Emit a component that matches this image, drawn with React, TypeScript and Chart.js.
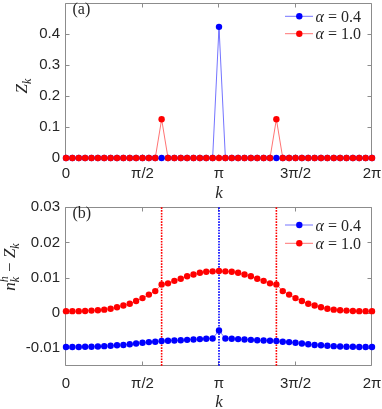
import React, { useEffect, useRef } from 'react';
import { Chart, registerables } from 'chart.js';

Chart.register(...registerables);

// ---------- data ----------
const kIndex = [
  0, 1, 2, 3, 4, 5, 6, 7, 8, 9, 10, 11, 12, 13, 14, 15, 16, 17, 18, 19, 20, 21, 22, 23, 24,
  25, 26, 27, 28, 29, 30, 31, 32, 33, 34, 35, 36, 37, 38, 39, 40, 41, 42, 43, 44, 45, 46, 47, 48,
];
const xTickIndex = [0, 12, 24, 36, 48];
const xTickLabels = ['0', 'π/2', 'π', '3π/2', '2π'];

const zkAlpha04 = [
  0, 0, 0, 0, 0, 0, 0, 0, 0, 0, 0, 0, 0, 0, 0, 0, 0, 0, 0, 0, 0, 0, 0, 0, 0.423,
  0, 0, 0, 0, 0, 0, 0, 0, 0, 0, 0, 0, 0, 0, 0, 0, 0, 0, 0, 0, 0, 0, 0, 0,
];
const zkAlpha10 = [
  0, 0, 0, 0, 0, 0, 0, 0, 0, 0, 0, 0, 0, 0, 0, 0.125, 0, 0, 0, 0, 0, 0, 0, 0, 0,
  0, 0, 0, 0, 0, 0, 0, 0, 0.125, 0, 0, 0, 0, 0, 0, 0, 0, 0, 0, 0, 0, 0, 0, 0,
];

const diffAlpha04 = [
  -0.0097, -0.0097, -0.0097, -0.0096, -0.0096, -0.00955, -0.00945, -0.00935, -0.0092, -0.0091,
  -0.0089, -0.0087, -0.0085, -0.0083, -0.0082, -0.008, -0.0079, -0.00785, -0.00775, -0.00765,
  -0.00755, -0.00745, -0.00735, -0.00728, -0.005,
  -0.00728, -0.00735, -0.00745, -0.00755, -0.00765, -0.00775, -0.00785, -0.0079, -0.008, -0.0082,
  -0.0083, -0.0085, -0.0087, -0.0089, -0.0091, -0.0092, -0.00935, -0.00945, -0.00955, -0.0096,
  -0.0096, -0.0097, -0.0097, -0.0097,
];
const diffAlpha10 = [
  0.0005, 0.0005, 0.0005, 0.00056, 0.00065, 0.00075, 0.00093, 0.0012, 0.0016, 0.0021,
  0.0026, 0.0034, 0.0042, 0.0052, 0.0062, 0.0081, 0.0084, 0.0091, 0.0097, 0.0104,
  0.0109, 0.0114, 0.0117, 0.0118, 0.0119,
  0.0118, 0.0117, 0.0114, 0.0109, 0.0104, 0.0097, 0.0091, 0.0084, 0.0081, 0.0062,
  0.0052, 0.0042, 0.0034, 0.0026, 0.0021, 0.0016, 0.0012, 0.00093, 0.00075, 0.00065,
  0.00056, 0.0005, 0.0005, 0.0005,
];

const markerIndexAlpha04 = [24];
const markerIndexAlpha10 = [15, 33];

const yRangeA = [0, 0.5];
const yTicksA = [0, 0.1, 0.2, 0.3, 0.4];
const yRangeB = [-0.015, 0.03];
const yTicksB = [-0.01, 0, 0.01, 0.02, 0.03];

const seriesLabels = ['0.4', '1.0'];

// ---------- style ----------
const BLUE = '#0000ff';
const RED = '#ff0000';
const BLUE_LINE = 'rgba(0,0,255,0.55)';
const RED_LINE = 'rgba(255,0,0,0.55)';
const FRAME = '#8c8c8c';
const TEXT = '#262626';
const SERIF = '"Liberation Serif", "Times New Roman", serif';
const SANS = '"Liberation Sans", Arial, Helvetica, sans-serif';

type Seg = { t: string; italic?: boolean; size: number; dy?: number; hold?: boolean };

function drawRich(ctx: CanvasRenderingContext2D, segs: Seg[], x: number, y: number, align: 'center' | 'left') {
  const widths: number[] = [];
  let total = 0;
  let held = 0;
  segs.forEach((s) => {
    ctx.font = `${s.italic ? 'italic ' : ''}${s.size}px ${SERIF}`;
    const w = ctx.measureText(s.t).width;
    widths.push(w);
    if (s.hold) {
      held = w;
    } else {
      total += Math.max(w, held);
      held = 0;
    }
  });
  let cx = align === 'center' ? x - total / 2 : x;
  ctx.textAlign = 'left';
  ctx.textBaseline = 'alphabetic';
  held = 0;
  segs.forEach((s, i) => {
    ctx.font = `${s.italic ? 'italic ' : ''}${s.size}px ${SERIF}`;
    ctx.fillText(s.t, cx, y + (s.dy || 0));
    if (s.hold) {
      held = widths[i];
    } else {
      cx += Math.max(widths[i], held);
      held = 0;
    }
  });
}

type PanelCfg = {
  name: string;
  canvasTop: number;
  canvasHeight: number;
  padTop: number;
  xAxisHeight: number;
  xTickPad: number;
  yRange: number[];
  yTicks: number[];
  yFmt: (v: number) => string;
  values04: number[];
  values10: number[];
  vlines: boolean;
  panelLabel: string;
  panelLabelY: number;
  yTitle: Seg[];
  yTitleX: number;
  yTitleCY: number;
  xTitleY: number;
  legendY: number[];
};

function makeDecor(cfg: PanelCfg) {
  return {
    id: 'decor_' + cfg.name,
    beforeDatasetsDraw(chart: any) {
      const { ctx, chartArea: a, scales } = chart;
      const L = Math.floor(a.left) - 0.5;
      const R = Math.floor(a.right) - 0.5;
      const T = Math.floor(a.top) + 0.5;
      const B = Math.floor(a.bottom) + 0.5;
      ctx.save();
      ctx.strokeStyle = FRAME;
      ctx.lineWidth = 1;
      ctx.beginPath();
      ctx.moveTo(L, T);
      ctx.lineTo(R, T);
      ctx.lineTo(R, B);
      ctx.lineTo(L, B);
      ctx.closePath();
      const tl = 4;
      cfg.yTicks.forEach((v) => {
        const py = Math.round(scales.y.getPixelForValue(v)) + 0.5;
        ctx.moveTo(L, py);
        ctx.lineTo(L + tl, py);
        ctx.moveTo(R, py);
        ctx.lineTo(R - tl, py);
      });
      xTickIndex.forEach((v) => {
        const px = Math.round(scales.x.getPixelForValue(v)) - 0.5;
        ctx.moveTo(px, B);
        ctx.lineTo(px, B - tl);
        ctx.moveTo(px, T);
        ctx.lineTo(px, T + tl);
      });
      ctx.stroke();
      ctx.restore();
    },
    afterDraw(chart: any) {
      const { ctx, chartArea: a } = chart;
      const off = cfg.canvasTop;
      ctx.save();
      ctx.fillStyle = TEXT;
      // panel label
      drawRich(ctx, [{ t: cfg.panelLabel, size: 16 }], 72.5, cfg.panelLabelY - off, 'left');
      // x title
      drawRich(ctx, [{ t: 'k', italic: true, size: 17 }], (a.left + a.right) / 2, cfg.xTitleY - off, 'center');
      // y title (rotated)
      ctx.save();
      ctx.translate(cfg.yTitleX, cfg.yTitleCY - off);
      ctx.rotate(-Math.PI / 2);
      drawRich(ctx, cfg.yTitle, 0, 0, 'center');
      ctx.restore();
      // legend
      const rows = [
        { c: BLUE, lc: BLUE_LINE, lab: seriesLabels[0] },
        { c: RED, lc: RED_LINE, lab: seriesLabels[1] },
      ];
      rows.forEach((r, i) => {
        const y = cfg.legendY[i] - off;
        ctx.strokeStyle = r.lc;
        ctx.lineWidth = 1;
        ctx.beginPath();
        ctx.moveTo(285, y);
        ctx.lineTo(313, y);
        ctx.stroke();
        ctx.fillStyle = r.c;
        ctx.beginPath();
        ctx.arc(299.3, y, 3.2, 0, Math.PI * 2);
        ctx.fill();
        ctx.fillStyle = TEXT;
        drawRich(
          ctx,
          [
            { t: 'α', italic: true, size: 16 },
            { t: ' = ' + r.lab, size: 16 },
          ],
          315.5,
          y + 5.5,
          'left'
        );
      });
      ctx.restore();
    },
  };
}

function toPoints(values: number[]) {
  return kIndex.map((x, i) => ({ x, y: values[i] }));
}

function Panel({ cfg }: { cfg: PanelCfg }) {
  const ref = useRef<HTMLCanvasElement | null>(null);
  useEffect(() => {
    if (!ref.current) return;
    const datasets: any[] = [
      {
        label: 'α = 1.0',
        data: toPoints(cfg.values10),
        borderColor: RED_LINE,
        borderWidth: 1,
        pointRadius: 3.2,
        pointBackgroundColor: RED,
        pointBorderWidth: 0,
        pointBorderColor: RED,
        clip: false,
        order: 1,
      },
      {
        label: 'α = 0.4',
        data: toPoints(cfg.values04),
        borderColor: BLUE_LINE,
        borderWidth: 1,
        pointRadius: 3.2,
        pointBackgroundColor: BLUE,
        pointBorderWidth: 0,
        pointBorderColor: BLUE,
        clip: false,
        order: 2,
      },
    ];
    if (cfg.vlines) {
      const mk = (idx: number, color: string) => ({
        label: 'v' + idx,
        data: [
          { x: idx, y: cfg.yRange[0] },
          { x: idx, y: cfg.yRange[1] },
        ],
        borderColor: color,
        borderWidth: 1.6,
        borderDash: [1.6, 1.2],
        pointRadius: 0,
        clip: false,
        order: 5,
      });
      markerIndexAlpha10.forEach((i) => datasets.push(mk(i, RED)));
      markerIndexAlpha04.forEach((i) => datasets.push(mk(i, BLUE)));
    }
    const chart = new Chart(ref.current, {
      type: 'line',
      data: { datasets },
      options: {
        animation: false,
        responsive: false,
        devicePixelRatio: 1,
        parsing: false as any,
        layout: { padding: { top: cfg.padTop, right: 10, left: 0, bottom: 0 } },
        plugins: { legend: { display: false }, tooltip: { enabled: false }, title: { display: false } },
        scales: {
          x: {
            type: 'linear',
            min: 0,
            max: 48,
            grid: { display: false, drawTicks: false },
            border: { display: false },
            afterBuildTicks: (s: any) => {
              s.ticks = xTickIndex.map((v) => ({ value: v }));
            },
            afterFit: (s: any) => {
              s.height = cfg.xAxisHeight;
              s.paddingLeft = 0;
              s.paddingRight = 0;
            },
            ticks: {
              autoSkip: false,
              maxRotation: 0,
              minRotation: 0,
              padding: cfg.xTickPad,
              color: TEXT,
              font: { family: SANS, size: 15 },
              callback: (v: any) => {
                const i = xTickIndex.indexOf(Number(v));
                return i >= 0 ? xTickLabels[i] : '';
              },
            },
          },
          y: {
            type: 'linear',
            min: cfg.yRange[0],
            max: cfg.yRange[1],
            grid: { display: false, drawTicks: false },
            border: { display: false },
            afterBuildTicks: (s: any) => {
              s.ticks = cfg.yTicks.map((v) => ({ value: v }));
            },
            afterFit: (s: any) => {
              s.width = 66;
              s.paddingTop = 0;
              s.paddingBottom = 0;
            },
            ticks: {
              padding: 6,
              color: TEXT,
              font: { family: SANS, size: 15 },
              callback: (v: any) => cfg.yFmt(Number(v)),
            },
          },
        },
      },
      plugins: [makeDecor(cfg)],
    });
    return () => chart.destroy();
  }, [cfg]);
  return (
    <canvas
      ref={ref}
      width={382}
      height={cfg.canvasHeight}
      style={{ position: 'absolute', left: 0, top: cfg.canvasTop, width: 382, height: cfg.canvasHeight }}
    />
  );
}

const panelA: PanelCfg = {
  name: 'a',
  canvasTop: -1,
  canvasHeight: 201,
  padTop: 0,
  xAxisHeight: 42,
  xTickPad: 7,
  yRange: yRangeA,
  yTicks: yTicksA,
  yFmt: (v) => (v === 0 ? '0' : v.toFixed(1)),
  values04: zkAlpha04,
  values10: zkAlpha10,
  vlines: false,
  panelLabel: '(a)',
  panelLabelY: 14,
  yTitle: [
    { t: 'Z', italic: true, size: 17 },
    { t: 'k', italic: true, size: 12, dy: 3.5 },
  ],
  yTitleX: 27,
  yTitleCY: 86,
  xTitleY: 198,
  legendY: [16.3, 33.7],
};

const panelB: PanelCfg = {
  name: 'b',
  canvasTop: 200,
  canvasHeight: 209,
  padTop: 7.3,
  xAxisHeight: 43.3,
  xTickPad: 9.3,
  yRange: yRangeB,
  yTicks: yTicksB,
  yFmt: (v) => (Math.abs(v) < 1e-12 ? '0' : v.toFixed(2)),
  values04: diffAlpha04,
  values10: diffAlpha10,
  vlines: true,
  panelLabel: '(b)',
  panelLabelY: 218,
  yTitle: [
    { t: 'n', italic: true, size: 17 },
    { t: 'h', italic: true, size: 12, dy: -7, hold: true },
    { t: 'k', italic: true, size: 12, dy: 3.5 },
    { t: ' − ', size: 17 },
    { t: 'Z', italic: true, size: 17 },
    { t: 'k', italic: true, size: 12, dy: 3.5 },
  ],
  yTitleX: 15,
  yTitleCY: 267,
  xTitleY: 407,
  legendY: [225, 243.3],
};

export default function App() {
  return (
    <div style={{ position: 'absolute', left: 0, top: 0, width: 382, height: 409, background: '#fff', overflow: 'hidden' }}>
      <Panel cfg={panelA} />
      <Panel cfg={panelB} />
    </div>
  );
}
